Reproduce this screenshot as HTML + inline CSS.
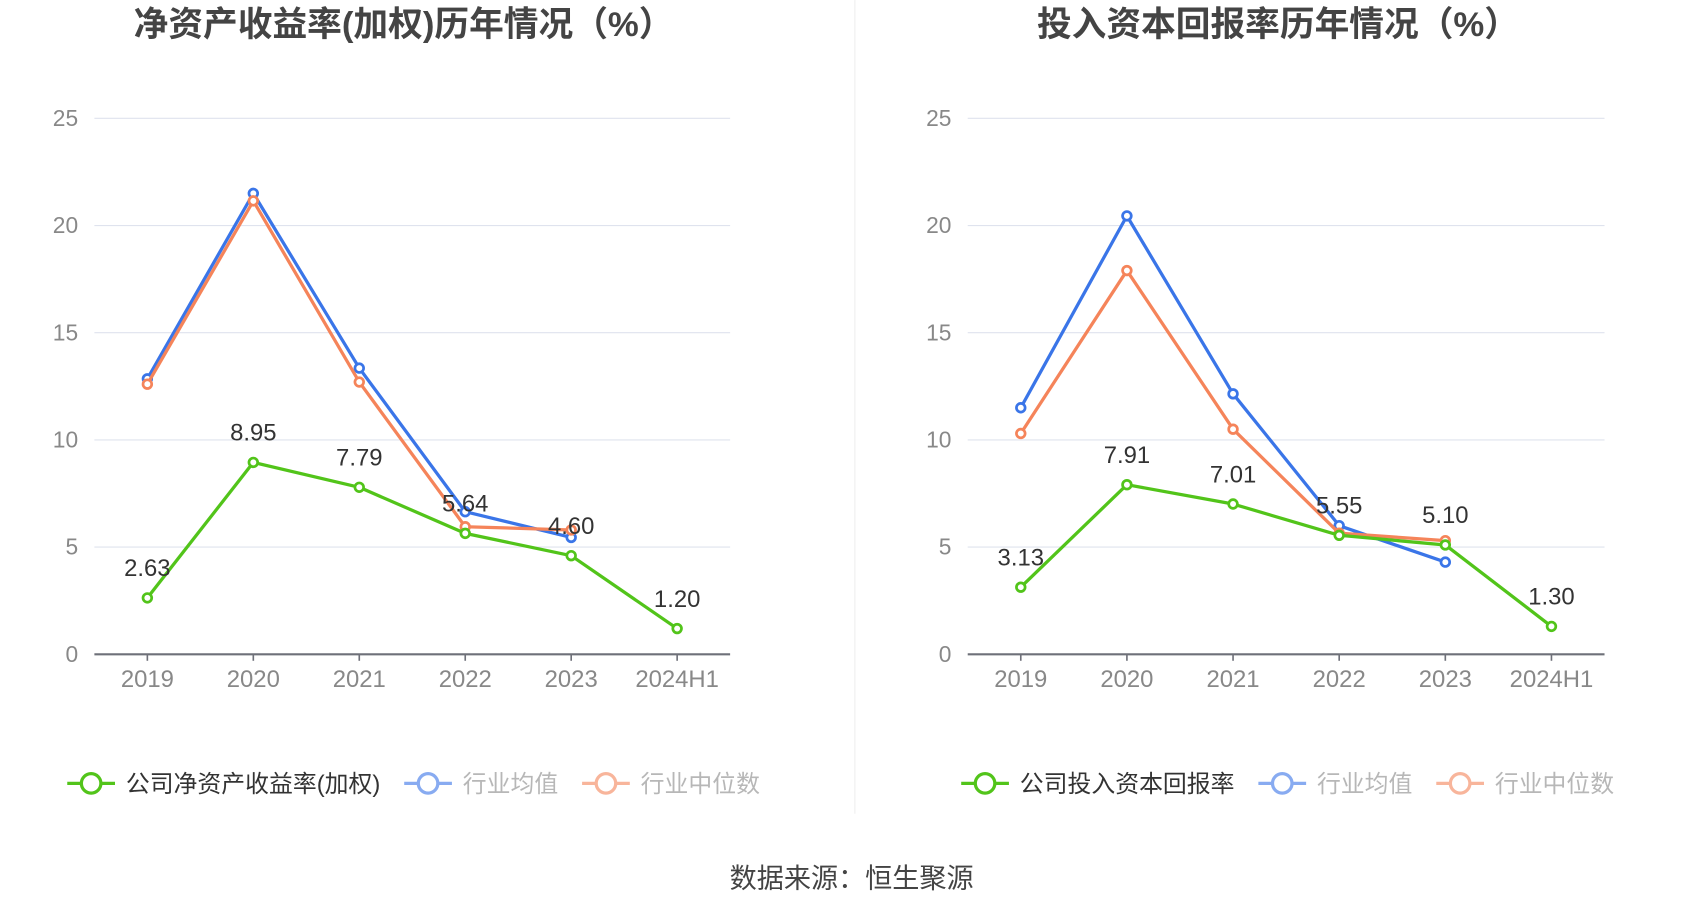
<!DOCTYPE html>
<html><head><meta charset="utf-8"><style>
html,body{margin:0;padding:0;background:#fff;}
svg{display:block;font-family:"Liberation Sans","Noto Sans CJK SC",sans-serif;}
</style></head><body>
<svg id="c" width="1700" height="918" viewBox="0 0 1567 846" xmlns="http://www.w3.org/2000/svg">
<line x1="788" y1="0" x2="788" y2="750" stroke="#eee" stroke-width="1"/>
<text x="372" y="33" text-anchor="middle" font-size="32" font-weight="bold" fill="#444">净资产收益率(加权)历年情况（%）</text>
<text x="1178" y="33" text-anchor="middle" font-size="32" font-weight="bold" fill="#444">投入资本回报率历年情况（%）</text>
<text x="785" y="818" text-anchor="middle" font-size="25" fill="#444">数据来源：恒生聚源</text>
</svg>
<script>
const categories = ['2019','2020','2021','2022','2023','2024H1'];
const yTicks = [0,5,10,15,20,25];
const roeCompany = [2.63,8.95,7.79,5.64,4.60,1.20];
const roeAvg = [12.85,21.5,13.35,6.65,5.45];
const roeMedian = [12.6,21.15,12.7,5.95,5.8];
const roicCompany = [3.13,7.91,7.01,5.55,5.10,1.30];
const roicAvg = [11.5,20.45,12.15,6.0,4.3];
const roicMedian = [10.3,17.9,10.5,5.65,5.3];
const legendLeft = ['公司净资产收益率(加权)','行业均值','行业中位数'];
const legendRight = ['公司投入资本回报率','行业均值','行业中位数'];

const NS='http://www.w3.org/2000/svg';
const svg=document.getElementById('c');
function mk(tag,attrs,parent){const e=document.createElementNS(NS,tag);for(const k in attrs)e.setAttribute(k,attrs[k]);(parent||svg).appendChild(e);return e;}
const GREEN='#52c41a',BLUE='#3a75e8',ORANGE='#f5845a';

function panel(id,x0,x1,comp,avg,med,legend,legendX){
  const g=mk('g',{});
  
  
  const yTop=109,yBot=603,max=25;
  const y=v=>yBot-(v/max)*(yBot-yTop);
  const step=(x1-x0)/categories.length;
  const x=i=>x0+step*(i+0.5);
  yTicks.forEach(t=>{
    if(t>0){const l=mk('line',{x1:x0,x2:x1,y1:y(t),y2:y(t),stroke:'#dfe3ee','stroke-width':1},g);
    
    }
    const tx=mk('text',{x:x0-15,y:y(t)+7,'text-anchor':'end','font-size':21,fill:'#888'},g);
    tx.textContent=t;
    
    
  });
  const ax=mk('line',{x1:x0,x2:x1,y1:yBot,y2:yBot,stroke:'#6e7079','stroke-width':2},g);
  
  
  categories.forEach((c,i)=>{
    mk('line',{x1:x(i),x2:x(i),y1:yBot,y2:yBot+6,stroke:'#6e7079','stroke-width':1.5},g);
    const t=mk('text',{x:x(i),y:yBot+30,'text-anchor':'middle','font-size':22,fill:'#888'},g);
    t.textContent=c;
    
    
  });
  function series(vals,color,name){
    const pts=vals.map((v,i)=>x(i)+','+y(v)).join(' ');
    const pl=mk('polyline',{points:pts,fill:'none',stroke:color,'stroke-width':3,'stroke-linejoin':'round'},g);
    
    
    vals.forEach((v,i)=>{
      const c=mk('circle',{cx:x(i),cy:y(v),r:4,fill:'#fff',stroke:color,'stroke-width':2.5},g);
      
      
    });
  }
  series(avg,BLUE,'industry-average');
  series(med,ORANGE,'industry-median');
  series(comp,GREEN,'company');
  comp.forEach((v,i)=>{
    const t=mk('text',{x:x(i),y:y(v)-20,'text-anchor':'middle','font-size':22,fill:'#333'},g);
    t.textContent=v.toFixed(2);
    
    
  });
  const colors=[GREEN,BLUE,ORANGE];
  let lx=legendX;
  legend.forEach((name,i)=>{
    const lg=mk('g',{opacity:i===0?1:0.6},svg);
    
    
    mk('line',{x1:lx,x2:lx+44,y1:722,y2:722,stroke:colors[i],'stroke-width':3},lg);
    mk('circle',{cx:lx+22,cy:722,r:9,fill:'#fff',stroke:colors[i],'stroke-width':3},lg);
    const t=mk('text',{x:lx+54,y:730,'font-size':22,fill:i===0?'#333':'#888'},lg);
    t.textContent=name;
    lx+=54+t.getComputedTextLength()+22;
  });
}
panel('roe',87,673,roeCompany,roeAvg,roeMedian,legendLeft,62);
panel('roic',892,1479,roicCompany,roicAvg,roicMedian,legendRight,886);
</script>
</body></html>
